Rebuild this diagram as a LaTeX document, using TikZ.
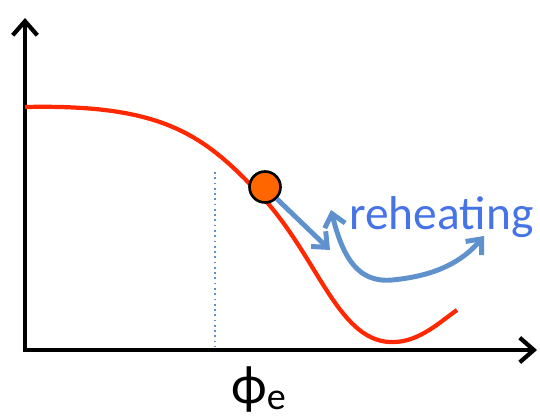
\documentclass[tikz,border=0pt]{standalone}
\usepackage{fontspec}
\setmainfont{Carlito}
\usetikzlibrary{arrows.meta, positioning}
\definecolor{curvered}{RGB}{255,40,0}
\definecolor{ballorange}{RGB}{255,102,0}
\definecolor{arrowblue}{RGB}{95,145,205}
\definecolor{textblue}{RGB}{70,115,230}
\tikzset{
  axis/.style={-{Straight Barb[length=8pt, width=14pt]}, line width=2.4pt, black},
  potential/.style={line width=2.4pt, color=curvered},
  ballnode/.style={circle, draw=black, line width=1.5pt, fill=ballorange, minimum size=0.62cm, inner sep=0pt},
  flow/.style={-{Straight Barb[length=7pt, width=12pt]}, line width=2.8pt, color=arrowblue},
  dbflow/.style={{Straight Barb[length=7pt, width=12pt]}-{Straight Barb[length=7pt, width=12pt]}, line width=2.8pt, color=arrowblue},
  guide/.style={dotted, line width=1pt, color=arrowblue},
}
\begin{document}
\begin{tikzpicture}[x=0.02cm, y=-0.02cm]
  \useasboundingbox (0,0) rectangle (540,419);

  % axes
  \coordinate (origin) at (25,350);
  \coordinate (ytop) at (25,18);
  \coordinate (xend) at (537,350);
  \draw[axis] (origin) -- (ytop);
  \draw[axis] ([xshift=-1.2pt]origin) -- (xend);

  % end of inflation marker
  \coordinate (phitop) at (215,172);
  \coordinate (phibot) at (215,347);
  \draw[guide] (phitop) -- (phibot);
  \node[font=\fontsize{31}{34}\selectfont, inner sep=0pt] (phie) at (259,389) {ϕ\textsubscript{e}};

  % potential
  \draw[potential] (25,107) .. controls (165,104) and (205,135) .. (265,200)
    .. controls (320,262) and (340,345) .. (395,342)
    .. controls (420,341) and (440,322) .. (457,310);

  % field and oscillations
  \node[ballnode] (ball) at (265,187) {};
  \coordinate (roll) at (330,250);
  \draw[flow] (ball.south east) -- (roll);
  \coordinate (oscA) at (331,210);
  \coordinate (oscB) at (484,236);
  \draw[dbflow] (oscA) .. controls (343,258) and (358,283) .. (392,280)
    .. controls (435,276) and (462,262) .. (oscB);
  \node[font=\fontsize{27}{32}\selectfont, text=textblue, anchor=base west, inner sep=0pt] (reheat) at (349,229) {reheating};
\end{tikzpicture}
\end{document}
